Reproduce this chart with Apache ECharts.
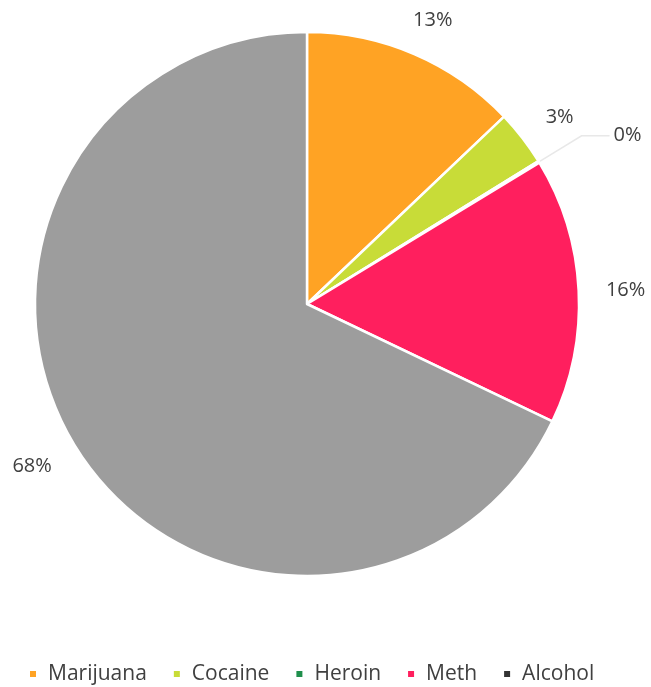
<!DOCTYPE html>
<html>
<head>
<meta charset="utf-8">
<script src="https://cdn.jsdelivr.net/npm/echarts@6/dist/echarts.min.js"></script>
<style>
html,body{margin:0;padding:0;background:#fff;}
#chart{width:651px;height:687px;}
</style>
</head>
<body>
<div id="chart"></div>
<script>
var categories = ['Marijuana', 'Cocaine', 'Heroin', 'Meth', 'Alcohol'];
var shares = [12.9, 3.3, 0.1, 15.8, 67.9];
var colors = ['#FFA324', '#C8DC38', '#1F8F4C', '#FF1F5E', '#9D9D9D'];
var legendColors = ['#FFA324', '#C8DC38', '#1F8F4C', '#FF1F5E', '#333333'];

var FONT = "'Open Sans', 'Noto Sans', sans-serif";
function pct(p) { return Math.round(p.percent) + '%'; }

// label nudges (layout only, not data)
var labelOffsets = { Marijuana: [0, 9], Cocaine: [0, 8], Meth: [0, 2], Alcohol: [-5, -8] };

var mainData = categories.map(function (c, i) {
  var item = { name: c, value: shares[i], itemStyle: { color: colors[i] } };
  if (c === 'Heroin') {
    item.label = { show: true };
    item.labelLine = { show: true };
  }
  return item;
});
var labelData = categories.map(function (c, i) {
  var item = { name: c, value: shares[i], itemStyle: { color: 'rgba(0,0,0,0)' } };
  if (c === 'Heroin') item.label = { show: false };
  else if (labelOffsets[c]) item.label = { offset: labelOffsets[c] };
  return item;
});

var chart = echarts.init(document.getElementById('chart'), null, { renderer: 'canvas' });
chart.setOption({
  animation: false,
  backgroundColor: '#ffffff',
  legend: {
    left: 23,
    top: 656,
    icon: 'rect',
    itemWidth: 8,
    itemHeight: 8,
    itemGap: 25,
    selectedMode: false,
    textStyle: { fontFamily: FONT, fontSize: 21, color: '#404040', padding: [0, 0, 0, 6], lineHeight: 26 },
    data: categories.map(function (c, i) {
      return { name: c, itemStyle: { color: legendColors[i] } };
    })
  },
  series: [
    {
      type: 'pie',
      center: [307, 304],
      radius: [0, 272],
      startAngle: 90,
      clockwise: true,
      avoidLabelOverlap: false,
      silent: true,
      itemStyle: { borderColor: '#ffffff', borderWidth: 2.5 },
      label: {
        show: false,
        position: 'outside',
        formatter: pct,
        fontFamily: FONT,
        fontSize: 20,
        color: '#404040',
        distanceToLabelLine: 4
      },
      labelLine: {
        show: false,
        length: 50,
        length2: 28,
        smooth: false,
        lineStyle: { color: '#e8e8e8', width: 1.5 }
      },
      data: mainData
    },
    {
      type: 'pie',
      center: [307, 304],
      radius: [300, 332],
      startAngle: 90,
      clockwise: true,
      silent: true,
      avoidLabelOverlap: false,
      itemStyle: { color: 'rgba(0,0,0,0)', borderWidth: 0 },
      label: {
        show: true,
        position: 'inside',
        formatter: pct,
        fontFamily: FONT,
        fontSize: 20,
        color: '#404040'
      },
      labelLine: { show: false },
      data: labelData
    }
  ]
});
</script>
</body>
</html>
